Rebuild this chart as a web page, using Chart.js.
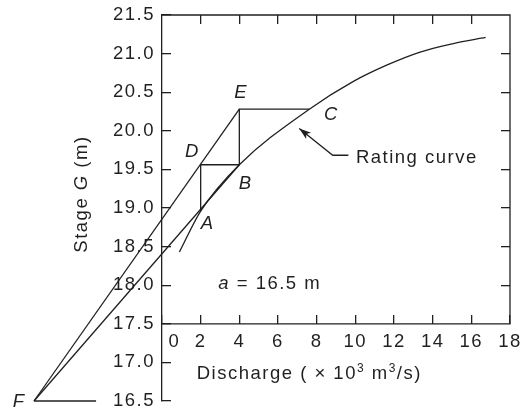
<!DOCTYPE html>
<html>
<head>
<meta charset="utf-8">
<script src="https://cdn.jsdelivr.net/npm/chart.js@4/dist/chart.umd.min.js"></script>
<style>
html,body{margin:0;padding:0;background:#ffffff;}
#wrap{width:525px;height:411px;}
</style>
</head>
<body>
<div id="wrap"><canvas id="c" width="525" height="411"></canvas></div>
<script>
// ---------- data ----------
const ratingQ = [0.9, 2, 4, 7.62, 9.9, 11.62, 13.35, 15.07, 16.74];      // discharge (x10^3 m3/s)
const ratingG = [18.43, 18.96, 19.56, 20.28, 20.64, 20.85, 21.02, 21.13, 21.21]; // stage (m)

const pointNames = ['A', 'B', 'C', 'D', 'E', 'F'];
const pointQ = [2, 4, 7.62, 2, 4, -6.62];
const pointG = [18.96, 19.56, 20.28, 19.56, 20.28, 16.5];

const baseEndQ = -3.41;                 // end of the short horizontal line from F
const arrowQ = [9.64, 8.83, 7.10];      // leader of the "Rating curve" label
const arrowG = [19.683, 19.683, 20.03];

const frameQ = [0, 18, 18, 0];
const frameG = [17.5, 17.5, 21.5, 21.5];

const xTicks = [0, 2, 4, 6, 8, 10, 12, 14, 16, 18];
const xTickLabels = ['0', '2', '4', '6', '8', '10', '12', '14', '16', '18'];
const yTicks = [16.5, 17.0, 17.5, 18.0, 18.5, 19.0, 19.5, 20.0, 20.5, 21.0, 21.5];
const yTickLabels = ['16.5', '17.0', '17.5', '18.0', '18.5', '19.0', '19.5', '20.0', '20.5', '21.0', '21.5'];
const rightTicks = [18.0, 18.5, 19.0, 19.5, 20.0, 20.5, 21.0];
const topTicks = [2, 4, 6, 8, 10, 12, 14, 16];

// ---------- styles ----------
const INK = '#231f20';
const FAMILY = '"Liberation Sans", Arial, Helvetica, sans-serif';
const LS = '1.5px';
const REG = '18.5px ' + FAMILY;
const IT = 'italic 18.5px ' + FAMILY;
const SUP = '12px ' + FAMILY;

function pts(xs, ys) { return xs.map((v, i) => ({ x: v, y: ys[i] })); }
const P = {};
pointNames.forEach((n, i) => { P[n] = { x: pointQ[i], y: pointG[i] }; });

const lineStyle = {
  showLine: true, pointRadius: 0, pointHoverRadius: 0, borderColor: INK, borderWidth: 1.3,
  fill: false, clip: false, xAxisID: 'x', yAxisID: 'y', tension: 0,
  borderJoinStyle: 'miter', borderCapStyle: 'butt'
};

function drawRuns(ctx, runs, x, y) {
  let cx = x;
  for (const r of runs) {
    ctx.font = r.f;
    ctx.fillText(r.t, cx, y - (r.rise || 0));
    cx += ctx.measureText(r.t).width;
  }
}
function runsWidth(ctx, runs) {
  let w = 0;
  for (const r of runs) { ctx.font = r.f; w += ctx.measureText(r.t).width; }
  return w;
}
function noPad(s) { s.paddingLeft = 0; s.paddingRight = 0; s.paddingTop = 0; s.paddingBottom = 0; }

const annot = {
  id: 'annot',
  beforeUpdate(chart) { chart.ctx.letterSpacing = LS; },
  beforeLayout(chart) { chart.ctx.letterSpacing = LS; },
  beforeDraw(chart) { chart.ctx.letterSpacing = LS; },
  afterDatasetsDraw(chart, args, opts) {
    const ctx = chart.ctx;
    const xs = chart.scales.x, ys = chart.scales.y;
    ctx.save();
    ctx.letterSpacing = LS;
    ctx.fillStyle = INK;
    ctx.textBaseline = 'alphabetic';
    ctx.textAlign = 'left';

    // arrow head at the end of the leader
    const n = arrowQ.length;
    const tx = xs.getPixelForValue(arrowQ[n - 1]), ty = ys.getPixelForValue(arrowG[n - 1]);
    const px = xs.getPixelForValue(arrowQ[n - 2]), py = ys.getPixelForValue(arrowG[n - 2]);
    let dx = tx - px, dy = ty - py; const len = Math.hypot(dx, dy); dx /= len; dy /= len;
    const L = opts.arrowLen, W = opts.arrowHalf;
    const bx = tx - dx * L, by = ty - dy * L;
    const nx = tx - dx * (L * 0.75), ny = ty - dy * (L * 0.75);
    ctx.beginPath();
    ctx.moveTo(tx, ty);
    ctx.lineTo(bx - dy * W, by + dx * W);
    ctx.lineTo(nx, ny);
    ctx.lineTo(bx + dy * W, by - dx * W);
    ctx.closePath();
    ctx.fill();

    // point letters
    ctx.font = IT;
    pointNames.forEach((name, i) => {
      const off = opts.letterOffsets[name];
      ctx.fillText(name, xs.getPixelForValue(pointQ[i]) + off[0], ys.getPixelForValue(pointG[i]) + off[1]);
    });

    // free texts
    for (const t of opts.texts) {
      const ax = xs.getPixelForValue(t.at[0]), ay = ys.getPixelForValue(t.at[1]);
      if (t.rotate) {
        ctx.save();
        ctx.translate(ax, ay);
        ctx.rotate(-Math.PI / 2);
        const w = runsWidth(ctx, t.runs);
        drawRuns(ctx, t.runs, -w / 2, 0);
        ctx.restore();
      } else {
        drawRuns(ctx, t.runs, ax, ay);
      }
    }
    ctx.restore();
  }
};

const tickFont = { family: FAMILY, size: 18.5, lineHeight: 1 };
const gridBase = { drawOnChartArea: false, drawTicks: true, color: INK, lineWidth: 1.3 };

new Chart(document.getElementById('c'), {
  type: 'scatter',
  data: {
    datasets: [
      { ...lineStyle, label: 'Rating curve', data: pts(ratingQ, ratingG), cubicInterpolationMode: 'monotone' },
      { ...lineStyle, label: 'F-E', data: [P.F, P.E] },
      { ...lineStyle, label: 'F-B', data: [P.F, P.B] },
      { ...lineStyle, label: 'A-D-B-E-C', data: [P.A, P.D, P.B, P.E, P.C] },
      { ...lineStyle, label: 'F base', data: [P.F, { x: baseEndQ, y: P.F.y }] },
      { ...lineStyle, label: 'frame', data: pts(frameQ, frameG) },
      { ...lineStyle, label: 'leader', data: pts(arrowQ, arrowG) }
    ]
  },
  options: {
    responsive: false,
    devicePixelRatio: 1,
    animation: false,
    events: [],
    layout: { padding: { left: 0, right: 15, top: 15, bottom: 10 } },
    plugins: {
      legend: { display: false },
      tooltip: { enabled: false },
      annot: {
        arrowLen: 12, arrowHalf: 4,
        letterOffsets: { A: [0, 18], B: [-0.7, 24.6], C: [14.7, 11], D: [-15.7, -8], E: [-5, -10.7], F: [-21.3, 6.3] },
        texts: [
          { at: [-3.895, 19.181], rotate: true, runs: [{ t: 'Stage ', f: REG }, { t: 'G', f: IT }, { t: ' (m)', f: REG }] },
          { at: [1.795, 16.785], runs: [
            { t: 'Discharge ( ', f: REG }, { t: '\u00d7', f: REG }, { t: ' 10', f: REG },
            { t: '3', f: SUP, rise: 7 }, { t: ' m', f: REG }, { t: '3', f: SUP, rise: 7 }, { t: '/s)', f: REG }] },
          { at: [10.03, 19.579], runs: [{ t: 'Rating curve', f: REG }] },
          { at: [2.91, 17.947], runs: [{ t: 'a', f: IT }, { t: ' = 16.5 m', f: REG }] }
        ]
      }
    },
    scales: {
      x: {
        type: 'linear', axis: 'x', min: 0, max: 18, position: { y: 17.5 },
        afterBuildTicks: s => { s.ticks = xTicks.map(v => ({ value: v })); },
        afterFit: noPad,
        ticks: {
          font: tickFont, color: INK, padding: 18, maxRotation: 0, autoSkip: false,
          callback: (v, i) => (i === 0 ? '\u2002\u2002\u200a' : '') + xTickLabels[i]
        },
        grid: { ...gridBase, tickLength: -9 },
        border: { display: false }
      },
      y: {
        type: 'linear', axis: 'y', min: 16.5, max: 21.5, position: 'left',
        afterBuildTicks: s => { s.ticks = yTicks.map(v => ({ value: v })); },
        afterFit: s => { s.width = 162; noPad(s); },
        ticks: { font: tickFont, color: INK, padding: 16, autoSkip: false, callback: (v, i) => yTickLabels[i] },
        grid: { ...gridBase, tickLength: -9 },
        border: { display: true, color: INK, width: 1.3 }
      },
      y2: {
        type: 'linear', axis: 'y', min: 16.5, max: 21.5, position: { x: 18 },
        afterBuildTicks: s => { s.ticks = rightTicks.map(v => ({ value: v })); },
        afterFit: noPad,
        ticks: { display: false },
        grid: { ...gridBase, tickLength: 9 },
        border: { display: false }
      },
      x2: {
        type: 'linear', axis: 'x', min: 0, max: 18, position: { y: 21.5 },
        afterBuildTicks: s => { s.ticks = topTicks.map(v => ({ value: v })); },
        afterFit: noPad,
        ticks: { display: false },
        grid: { ...gridBase, tickLength: 9 },
        border: { display: false }
      }
    }
  },
  plugins: [annot]
});
</script>
</body>
</html>
